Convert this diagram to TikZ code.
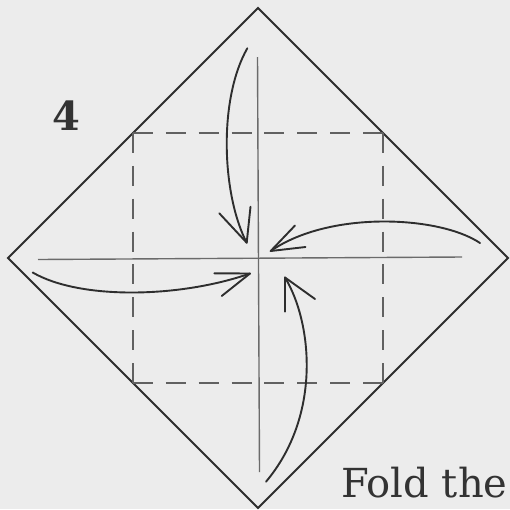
\documentclass[tikz,border=0pt]{standalone}
\usepackage{fontspec}
\newfontfamily\dvs{DejaVu Serif}
\begin{document}
\begin{tikzpicture}[x=1pt,y=-1pt,
  paper/.style={line width=2pt, draw=black!82, line join=miter},
  crease/.style={line width=1.4pt, draw=black!58},
  valley/.style={line width=2.1pt, draw=black!62, dash pattern=on 20pt off 12.86pt},
  foldarrow/.style={line width=1.9pt, draw=black!82, line cap=round, line join=round},
  label/.style={inner sep=0pt, anchor=base west, text=black!80}]
\fill[gray!15] (0,0) rectangle (510,509);
\useasboundingbox (0,0) rectangle (510,509);

% paper square (diamond)
\coordinate (T) at (258,8);
\coordinate (R) at (508,258);
\coordinate (B) at (258,508);
\coordinate (L) at (8,258);
\draw[paper] (T) -- (R) -- (B) -- (L) -- cycle;

% dashed square
\coordinate (q1) at (133,133);
\coordinate (q2) at (383,133);
\coordinate (q3) at (383,383);
\coordinate (q4) at (133,383);
\draw[valley] (q1) -- (q2);
\draw[valley] (q2) -- (q3);
\draw[valley] (q4) -- (q3);
\draw[valley] (q1) -- (q4);

% creases
\coordinate (vt) at (257.5,57);
\coordinate (vb) at (259.5,472);
\coordinate (hl) at (38,259.5);
\coordinate (hr) at (462,257);
\draw[crease] (vt) -- (vb);
\draw[crease] (hl) -- (hr);

% top arrow
\coordinate (a1s) at (247.3,48.3);
\coordinate (a1e) at (246.7,242.7);
\draw[foldarrow] (a1s) .. controls (218,100) and (222,195) .. (a1e);
\draw[foldarrow] (219.3,213.3) -- (a1e) -- (250.5,206.7);

% right arrow
\coordinate (a2s) at (480,243);
\coordinate (a2e) at (270.7,251);
\draw[foldarrow] (a2s) .. controls (440,216) and (330,210) .. (a2e);
\draw[foldarrow] (295,225.5) -- (a2e) -- (305.5,247);

% left arrow
\coordinate (a3s) at (32.7,272.5);
\coordinate (a3e) at (250,273.5);
\draw[foldarrow] (a3s) .. controls (80,300) and (180,298) .. (a3e);
\draw[foldarrow] (214.3,273.3) -- (a3e) -- (221.7,296);

% bottom arrow
\coordinate (a4s) at (266,481.7);
\coordinate (a4e) at (285,277.5);
\draw[foldarrow] (a4s) .. controls (322,415) and (312,322) .. (a4e);
\draw[foldarrow] (285,311.7) -- (a4e) -- (315,299);

% texts
\node[label, font=\dvs\bfseries\fontsize{40}{40}\selectfont] (num) at (52.5,130.7) {4};
\node[label, font=\dvs\fontsize{40}{40}\selectfont] (cap) at (341,497) {Fold the};
\end{tikzpicture}
\end{document}
